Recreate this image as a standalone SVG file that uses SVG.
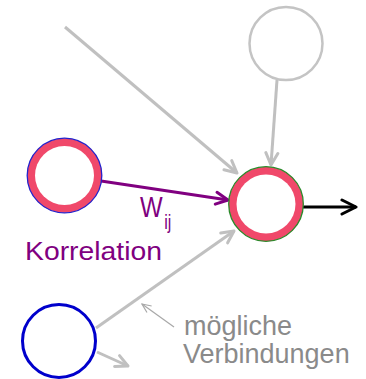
<svg xmlns="http://www.w3.org/2000/svg" width="366" height="379" viewBox="0 0 366 379">
  <style>
    .ring-outer { fill: #f0486a; stroke-width: 1.3; }
    .ring-inner { fill: #ffffff; }
    .edge-gray { fill: none; stroke: #c0c0c0; stroke-width: 3; }
    .label { font-family: "Liberation Sans", Arial, sans-serif; }
  </style>
  <defs>
    <marker id="head-gray" viewBox="0 0 16 16" refX="14" refY="8" markerWidth="16" markerHeight="16" markerUnits="userSpaceOnUse" orient="auto">
      <path d="M2,2 L14,8 L2,14" fill="none" stroke="#c0c0c0" stroke-width="3" stroke-linecap="round" stroke-linejoin="round"/>
    </marker>
    <marker id="head-purple" viewBox="0 0 16 16" refX="14" refY="8" markerWidth="16" markerHeight="16" markerUnits="userSpaceOnUse" orient="auto">
      <path d="M2,2 L14,8 L2,14" fill="none" stroke="#800080" stroke-width="3" stroke-linecap="round" stroke-linejoin="round"/>
    </marker>
    <marker id="head-black" viewBox="0 0 18 18" refX="16" refY="9" markerWidth="18" markerHeight="18" markerUnits="userSpaceOnUse" orient="auto">
      <path d="M2,2 L16,9 L2,16" fill="none" stroke="#000000" stroke-width="3" stroke-linecap="round" stroke-linejoin="round"/>
    </marker>
    <marker id="head-thin" viewBox="0 0 12 12" refX="11" refY="6" markerWidth="12" markerHeight="12" markerUnits="userSpaceOnUse" orient="auto">
      <path d="M2,2 L11,6 L2,10" fill="none" stroke="#a8a8a8" stroke-width="1.2"/>
    </marker>
  </defs>

  <!-- connectors -->
  <g id="connectors">
    <line class="edge-gray" x1="65" y1="27" x2="237" y2="173" marker-end="url(#head-gray)"/>
    <line class="edge-gray" x1="277" y1="80" x2="271" y2="165" marker-end="url(#head-gray)"/>
    <line class="edge-gray" x1="96" y1="328" x2="234" y2="231" marker-end="url(#head-gray)"/>
    <line class="edge-gray" x1="97" y1="352" x2="128" y2="366" marker-end="url(#head-gray)"/>
    <line x1="101" y1="181" x2="228" y2="200" fill="none" stroke="#800080" stroke-width="3" marker-end="url(#head-purple)"/>
    <line x1="303" y1="207" x2="356" y2="207" fill="none" stroke="#000000" stroke-width="3" marker-end="url(#head-black)"/>
    <line x1="174" y1="327" x2="142" y2="304" fill="none" stroke="#a8a8a8" stroke-width="1.2" marker-end="url(#head-thin)"/>
  </g>

  <!-- neuron i (correlated input) -->
  <g id="neuron-i">
    <circle class="ring-outer" cx="64.5" cy="175.5" r="37.3" stroke="#2222cc"/>
    <circle class="ring-inner" cx="64.5" cy="175.5" r="29.5"/>
  </g>

  <!-- neuron j (target) -->
  <g id="neuron-j">
    <circle class="ring-outer" cx="266" cy="204" r="37.3" stroke="#2a8a2a"/>
    <circle class="ring-inner" cx="266" cy="204" r="29.5"/>
  </g>

  <!-- inactive neuron at top -->
  <g id="neuron-top">
    <circle cx="286" cy="43.5" r="36.5" fill="#ffffff" stroke="#c4c4c4" stroke-width="2.5"/>
  </g>

  <!-- neuron at bottom -->
  <g id="neuron-bottom">
    <circle cx="59" cy="341" r="36.5" fill="#ffffff" stroke="#0000cc" stroke-width="3"/>
  </g>

  <!-- labels -->
  <g id="label-weight" class="label" fill="#800080">
    <text transform="translate(140,217) scale(0.8,1)" font-size="30">W<tspan dx="2" dy="12" font-size="20">ij</tspan></text>
  </g>
  <g id="label-correlation" class="label" fill="#800080">
    <text x="25" y="260" font-size="25" textLength="137" lengthAdjust="spacingAndGlyphs">Korrelation</text>
  </g>
  <g id="label-connections" class="label" fill="#8a8a8a" font-size="27">
    <text x="184" y="335">mögliche</text>
    <text x="183" y="363">Verbindungen</text>
  </g>
</svg>
